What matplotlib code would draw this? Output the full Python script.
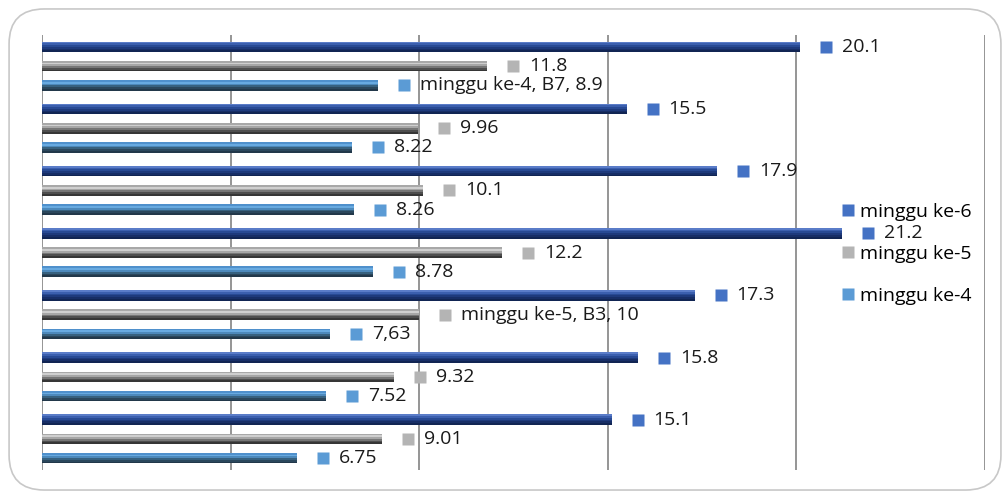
import matplotlib.pyplot as plt
from matplotlib.patches import FancyBboxPatch
from matplotlib.lines import Line2D

plt.rcParams['font.family'] = ['Open Sans', 'DejaVu Sans']

# data, B1 at the bottom ... B7 on top
cats = ['B1', 'B2', 'B3', 'B4', 'B5', 'B6', 'B7']
ke6 = [15.1, 15.8, 17.3, 21.2, 17.9, 15.5, 20.1]
ke5 = [9.01, 9.32, 10, 12.2, 10.1, 9.96, 11.8]
ke4 = [6.75, 7.52, 7.63, 8.78, 8.26, 8.22, 8.9]
lab6 = ['15.1', '15.8', '17.3', '21.2', '17.9', '15.5', '20.1']
lab5 = ['9.01', '9.32', 'minggu ke-5, B3, 10', '12.2', '10.1', '9.96', '11.8']
lab4 = ['6.75', '7.52', '7,63', '8.78', '8.26', '8.22', 'minggu ke-4, B7, 8.9']
names = ['minggu ke-6', 'minggu ke-5', 'minggu ke-4']

# shading bands (top -> bottom) to fake the glossy bars
shade6 = ['#5a7cc8', '#3b5fae', '#284a94', '#1e3a7c', '#172e66', '#112553']
shade5 = ['#a8a8a8', '#cfcfcf', '#a6a6a6', '#767676', '#4e4e4e', '#363636']
shade4 = ['#4f90cc', '#68aae0', '#4d89bb', '#37617f', '#2b475c', '#22384a']
sq = ['#4472c4', '#b4b4b4', '#5b9bd5']

fig = plt.figure(figsize=(10.08, 4.98), dpi=100)
fig.patches.append(FancyBboxPatch((0.009, 0.016), 0.984, 0.966,
                                  boxstyle='round,pad=0,rounding_size=0.035',
                                  transform=fig.transFigure, fc='none',
                                  ec='#c8c8c8', lw=1.2, mutation_aspect=2.0,
                                  zorder=-5))
ax = fig.add_axes([0.0417, 0.0562, 0.9355, 0.8735])
ax.set_facecolor('none')

h = 0.17
gap = 0.31
pxu = 943 / 25.0

for vals, labs, shade, off, c in [(ke6, lab6, shade6, gap, sq[0]),
                                  (ke5, lab5, shade5, 0, sq[1]),
                                  (ke4, lab4, shade4, -gap, sq[2])]:
    n = len(shade)
    for i, v in enumerate(vals):
        yc = i + off
        for k, col in enumerate(shade):
            yy = yc + h / 2 - (k + 0.5) * h / n
            ax.barh(yy, v, height=h / n, color=col, lw=0, zorder=3)
        ax.plot(v + 26 / pxu, yc, 's', ms=8.5, color=c, mec='none', zorder=4)
        ax.text(v + 42 / pxu, yc, labs[i], va='center', ha='left',
                fontsize=14, color='#1a1a1a', zorder=5)

ax.set_xlim(0, 25)
ax.set_ylim(-0.5, 6.5)
ax.set_xticks([0, 5, 10, 15, 20, 25])
ax.set_xticklabels([])
ax.set_yticks([])
ax.tick_params(length=0)
ax.grid(axis='x', color='#8c8c8c', lw=1.3, zorder=1)
for s in ax.spines.values():
    s.set_visible(False)

hd = [Line2D([], [], ls='none', marker='s', ms=8.5, color=c, mec='none') for c in sq]
ax.legend(hd, names, loc='center left', bbox_to_anchor=(0.846, 0.497),
          frameon=False, fontsize=14, handlelength=0.8, handletextpad=0.25,
          labelspacing=1.25, borderaxespad=0, borderpad=0)

fig.savefig('out.png', dpi=100)
